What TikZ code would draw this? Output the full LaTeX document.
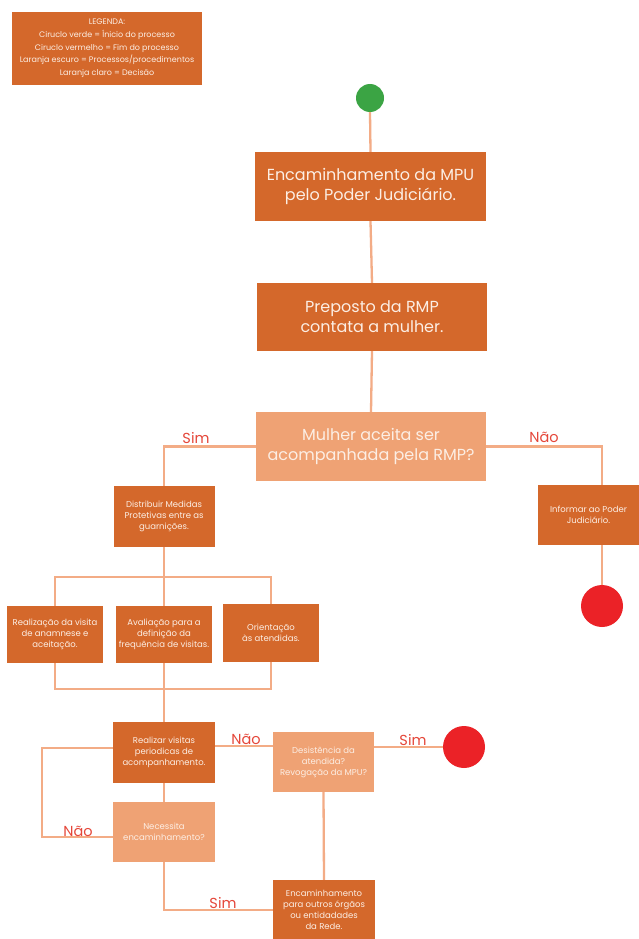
\documentclass[tikz,border=0pt]{standalone}
\usepackage{fontspec}
\setmainfont{Poppins}
\definecolor{dark}{HTML}{D4682B}
\definecolor{light}{HTML}{EFA274}
\definecolor{wire}{HTML}{F3AC86}
\definecolor{txt}{HTML}{FCEEE4}
\definecolor{lab}{HTML}{E5473A}
\definecolor{startc}{HTML}{3BA444}
\definecolor{endc}{HTML}{EB2227}
\tikzset{
  big/.style={font=\fontsize{16}{20}\selectfont, text=txt, align=center, inner sep=0pt},
  small/.style={font=\fontsize{8.5}{11}\selectfont, text=txt, align=center, inner sep=0pt},
  darkbox/.style={fill=dark, draw=none},
  lightbox/.style={fill=light, draw=none},
  wirel/.style={draw=wire, line width=2.3pt},
  lbl/.style={font=\fontsize{14.5}{16}\selectfont, text=lab, inner sep=0pt},
  startdot/.style={circle, fill=startc, minimum size=28pt, inner sep=0pt},
  enddot/.style={circle, fill=endc, minimum size=42pt, inner sep=0pt}
}
\begin{document}
\begin{tikzpicture}[x=1pt,y=-1pt]
\useasboundingbox (0,0) rectangle (639,939);
\fill[white] (0,0) rectangle (639,939);
% legend
\node[darkbox, small, font=\fontsize{8}{12.7}\selectfont, minimum width=190pt, minimum height=73pt] (leg) at (107,48.5)
 {LEGENDA:\\Ciruclo verde = Ínicio do processo\\Ciruclo vermelho = Fim do processo\\Laranja escuro = Processos/procedimentos\\Laranja claro = Decisão};
% nodes
\node[startdot] (start) at (370,98) {};
\node[darkbox, big, minimum width=231pt, minimum height=69pt] (b1) at (370.5,186.5) {Encaminhamento da MPU\\pelo Poder Judiciário.};
\node[darkbox, big, minimum width=230pt, minimum height=68pt] (b2) at (372,317) {Preposto da RMP\\contata a mulher.};
\node[lightbox, big, minimum width=230pt, minimum height=69pt] (d1) at (371,446.5) {Mulher aceita ser\\acompanhada pela RMP?};
\node[darkbox, small, minimum width=101pt, minimum height=61pt] (dist) at (164,516.5) {Distribuir Medidas\\Protetivas entre as\\guarnições.};
\node[darkbox, small, minimum width=101pt, minimum height=60pt] (inf) at (588.5,515) {Informar ao Poder\\Judiciário.};
\coordinate (infin) at (602,485);
\coordinate (infout) at (602,545);
\node[enddot] (end1) at (602,606) {};
\node[darkbox, small, minimum width=96pt, minimum height=57pt] (A) at (55,634.5) {Realização da visita\\de anamnese e\\aceitação.};
\node[darkbox, small, minimum width=96pt, minimum height=57pt] (B) at (164,634.5) {Avaliação para a\\definição da\\frequência de visitas.};
\node[darkbox, small, minimum width=96pt, minimum height=58pt] (C) at (271,633) {Orientação\\às atendidas.};
\node[darkbox, small, minimum width=102pt, minimum height=61pt] (real) at (164,752.5) {Realizar visitas\\periodicas de\\acompanhamento.};
\node[lightbox, small, minimum width=101pt, minimum height=60pt] (des) at (323.5,762) {Desistência da\\atendida?\\Revogação da MPU?};
\node[enddot] (end2) at (464,747) {};
\node[lightbox, small, minimum width=102pt, minimum height=60pt] (nec) at (164,832) {Necessita\\encaminhamento?};
\node[darkbox, small, minimum width=102pt, minimum height=60pt] (enc) at (324,910) {Encaminhamento\\para outros órgãos\\ou entidadades\\da Rede.};
% connectors
\draw[wirel] (start.south) -- (b1.north);
\draw[wirel] (b1.south) -- (b2.north);
\draw[wirel] (b2.south) -- (d1.north);
\draw[wirel] (d1.west) -| (dist.north);
\draw[wirel] (d1.east) -| (infin);
\draw[wirel] (infout) -- (end1.north);
\draw[wirel] (dist.south) -- (B.north);
\coordinate (topbar) at (164,577);
\coordinate (botbar) at (164,689);
\draw[wirel] (A.north) |- (topbar) -| (C.north);
\draw[wirel] (A.south) |- (botbar) -| (C.south);
\draw[wirel] (B.south) -- (real.north);
\coordinate (rv) at ([yshift=6.5pt]real.east);
\draw[wirel] (rv) -- (rv -| des.west);
\draw[wirel] (end2.west) -- (end2.west -| des.east);
\draw[wirel] (des.south) -- (enc.north);
\draw[wirel] (real.south) -- (nec.north);
\coordinate (nw) at ([yshift=-5pt]nec.west);
\coordinate (rw) at ([yshift=4.5pt]real.west);
\coordinate (loopx) at (42,800);
\draw[wirel] (nw) -| (loopx) |- (rw);
\draw[wirel] (nec.south) |- (enc.west);
% labels
\node[lbl] (l1) at (196,438) {Sim};
\node[lbl] (l2) at (544,437) {Não};
\node[lbl] (l3) at (246,739) {Não};
\node[lbl] (l4) at (413,740) {Sim};
\node[lbl] (l5) at (78,831) {Não};
\node[lbl] (l6) at (223,903) {Sim};
\end{tikzpicture}
\end{document}
